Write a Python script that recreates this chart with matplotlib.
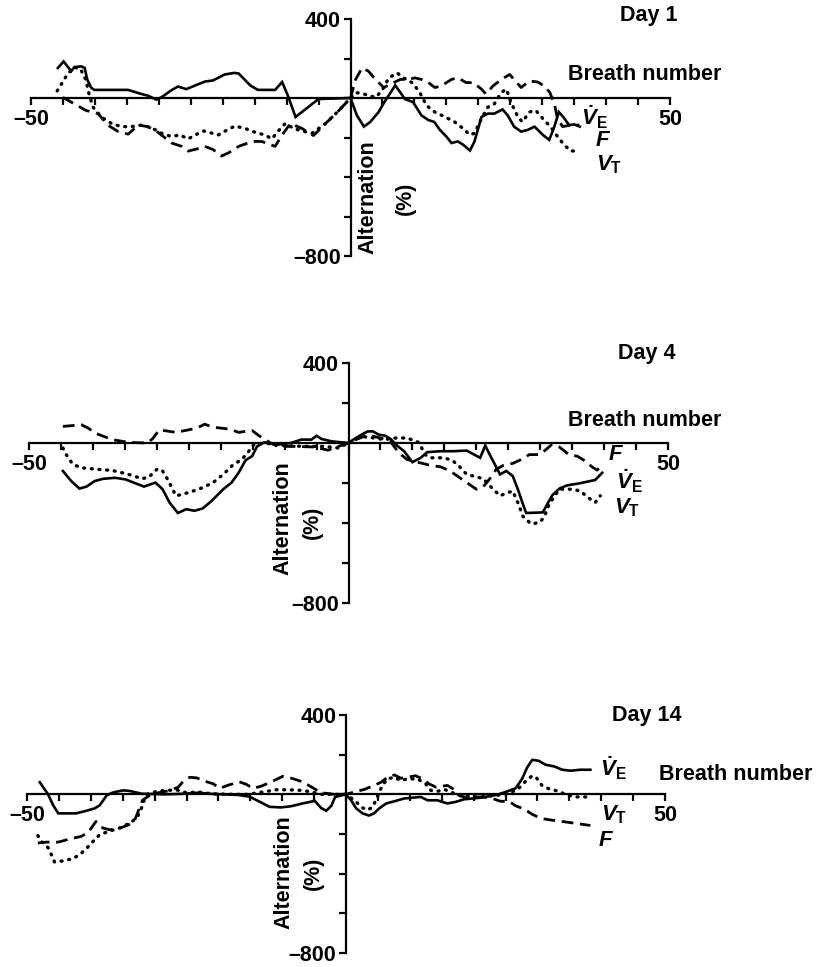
import matplotlib
matplotlib.use("Agg")
import matplotlib.pyplot as plt
from matplotlib.ticker import FixedLocator, FuncFormatter

plt.rcParams['font.family'] = ['Liberation Sans', 'DejaVu Sans']
plt.rcParams['font.weight'] = 'bold'
plt.rcParams['mathtext.fontset'] = 'custom'
plt.rcParams['mathtext.rm'] = 'Liberation Sans:bold'
plt.rcParams['mathtext.it'] = 'Liberation Sans:italic:bold'
plt.rcParams['mathtext.bf'] = 'Liberation Sans:bold'

# ---------------- data (breath number, alternation %) ----------------
day1_ve = [(-45.8, 152), (-44.9, 185), (-43.7, 136), (-43.2, 157), (-42.1, 160), (-41.6, 152),
           (-41.2, 94), (-40.6, 53), (-40.1, 41), (-34.8, 41), (-34.0, 33), (-32.7, 20), (-31.7, 12),
           (-30.4, -8), (-29.6, 3), (-28.0, 40), (-27.0, 58), (-25.7, 45), (-24.1, 66), (-22.8, 83),
           (-21.5, 89), (-19.7, 119), (-18.2, 127), (-17.5, 124), (-15.7, 64), (-14.5, 41), (-11.8, 41),
           (-10.7, 81), (-9.8, 12), (-8.6, -96), (-5.0, -5), (0, 0), (1.0, -88), (2.1, -145),
           (3.1, -121), (4.4, -71), (5.3, -21), (7.0, 64), (7.8, 28), (8.5, -5), (9.8, -21),
           (11.1, -88), (12.2, -112), (13.1, -121), (14.0, -162), (15.0, -195), (15.8, -228),
           (16.8, -220), (17.6, -236), (18.7, -266), (19.4, -220), (20.5, -96), (21.5, -79),
           (22.5, -79), (23.8, -58), (24.6, -88), (25.6, -145), (26.7, -170), (27.7, -162),
           (28.8, -145), (30.1, -187), (31.1, -212), (31.9, -145), (32.6, -71), (33.3, -96),
           (34.2, -137), (35.0, -134), (35.9, -145)]
day1_f = [(-45.0, 3), (-43.2, -30), (-41.4, -63), (-39.5, -79), (-38.0, -137), (-36.4, -169),
          (-34.8, -183), (-33.2, -137), (-31.7, -145), (-30.4, -167), (-28.0, -228), (-26.4, -245),
          (-25.4, -269), (-23.8, -256), (-22.8, -245), (-21.5, -261), (-20.2, -294), (-19.1, -278),
          (-17.5, -245), (-15.4, -220), (-13.9, -220), (-11.8, -245), (-10.7, -187), (-9.4, -129),
          (-7.6, -154), (-5.8, -190), (-3.9, -129), (-1.8, -63), (0, 0), (0.8, 94), (1.8, 152),
          (2.8, 136), (3.9, 94), (5.2, 53), (6.5, 74), (7.8, 94), (9.1, 94), (10.1, 102), (11.1, 94),
          (12.2, 78), (13.2, 53), (14.2, 61), (15.8, 94), (16.8, 102), (18.1, 78), (19.2, 78),
          (20.5, 45), (21.2, 20), (22.3, 61), (23.6, 94), (24.9, 119), (25.6, 94), (26.7, 53),
          (28.0, 86), (29.3, 81), (30.3, 61), (31.2, 28), (31.9, -30), (32.4, -104), (33.2, -145),
          (34.5, -137), (35.8, -137)]
day1_vt = [(-45.9, 36), (-44.3, 120), (-43.3, 155), (-42.3, 150), (-41.4, 90), (-41.0, 30),
           (-40.3, -46), (-39.0, -96), (-37.4, -129), (-35.9, -145), (-34.3, -145), (-32.7, -137),
           (-31.2, -150), (-29.3, -183), (-28.0, -195), (-26.7, -187), (-25.4, -207), (-24.3, -187),
           (-23.0, -167), (-21.7, -178), (-20.7, -187), (-19.6, -167), (-18.1, -142), (-16.5, -154),
           (-14.9, -174), (-13.4, -187), (-12.3, -207), (-11.3, -167), (-10.2, -129), (-8.9, -154),
           (-7.6, -167), (-6.0, -178), (-3.9, -129), (-1.8, -63), (0, 0), (0.8, 28), (2.1, 20),
           (3.9, 3), (4.9, 36), (6.0, 102), (7.3, 127), (8.3, 102), (9.6, 78), (10.7, 36),
           (11.9, -38), (13.2, -71), (14.8, -96), (16.3, -121), (17.6, -154), (18.7, -187),
           (19.4, -178), (20.5, -104), (21.5, -46), (22.5, -30), (23.6, 28), (24.4, 45), (25.1, -21),
           (26.2, -96), (26.9, -121), (28.0, -71), (29.0, -63), (30.3, -112), (31.3, -145),
           (32.4, -195), (33.4, -236), (34.5, -269), (35.8, -266)]

day4_ve = [(-44.7, -140), (-43.4, -190), (-42.1, -228), (-41.0, -218), (-39.7, -190), (-38.4, -179),
           (-36.5, -174), (-34.9, -182), (-33.3, -202), (-32.0, -218), (-30.2, -198), (-29.1, -231),
           (-28.0, -298), (-26.7, -350), (-25.4, -331), (-24.1, -339), (-22.8, -327), (-21.4, -289),
           (-19.6, -231), (-18.3, -198), (-17.2, -149), (-16.1, -86), (-15.1, -66), (-14.3, -17),
           (-13.2, 3), (-11.1, -8), (-9.0, 0), (-7.4, 17), (-5.8, 17), (-5.0, 36), (-4.2, 20),
           (-2.6, 8), (0, 0), (0.9, 20), (2.0, 41), (3.0, 58), (3.8, 58), (4.8, 41), (5.8, 36),
           (6.6, 20), (7.6, -13), (8.7, -41), (10.0, -96), (11.3, -74), (12.3, -46), (14.4, -41),
           (16.4, -41), (18.5, -38), (20.6, -74), (21.4, -13), (22.1, -58), (22.9, -107),
           (23.7, -157), (24.7, -140), (25.7, -165), (26.5, -231), (27.3, -306), (27.8, -350),
           (30.4, -347), (31.1, -306), (31.9, -261), (33.0, -228), (34.2, -212), (36.1, -202),
           (38.6, -185), (39.7, -149)]
day4_f = [(-44.7, 83), (-41.8, 91), (-40.7, 74), (-39.7, 50), (-37.0, 17), (-34.4, 3), (-31.5, 0),
          (-30.7, 20), (-29.6, 66), (-27.0, 53), (-23.8, 74), (-22.5, 94), (-21.2, 79), (-18.5, 69),
          (-17.2, 53), (-15.1, 63), (-14.0, 36), (-12.2, 0), (-11.1, -17), (-8.5, -17), (-5.3, -20),
          (-3.2, -36), (-1.6, -17), (0, 0), (1.0, 15), (3.0, 40), (5.0, 25), (6.5, 10), (7.9, -50),
          (9.2, -83), (12.8, -112), (14.4, -119), (15.9, -140), (17.2, -169), (18.5, -198),
          (20.0, -231), (21.1, -218), (22.1, -179), (23.1, -132), (24.2, -112), (25.7, -102),
          (27.0, -83), (28.3, -58), (29.9, -58), (30.9, -33), (31.9, -5), (33.0, -20), (34.5, -58),
          (35.8, -66), (37.1, -91), (38.1, -119), (38.9, -136), (39.7, -107)]
day4_vt = [(-44.7, -25), (-43.9, -74), (-43.1, -107), (-41.8, -124), (-39.2, -132), (-37.0, -137),
           (-35.4, -149), (-33.9, -162), (-32.3, -179), (-31.2, -169), (-29.9, -129), (-29.1, -140),
           (-28.3, -182), (-27.0, -264), (-25.9, -256), (-24.3, -240), (-22.8, -223), (-21.2, -198),
           (-19.6, -157), (-18.0, -107), (-16.7, -83), (-15.6, -41), (-14.8, -8), (-13.2, 0),
           (-10.0, -13), (-6.9, -17), (-3.7, -17), (-1.6, -25), (0, 0), (2.0, 33), (4.0, 25),
           (5.6, 17), (7.4, 25), (9.2, 25), (11.0, 3), (12.0, -58), (12.8, -74), (14.9, -74),
           (16.2, -86), (17.2, -112), (18.5, -157), (20.0, -169), (21.1, -179), (22.4, -223),
           (23.7, -264), (24.7, -251), (25.7, -240), (26.5, -298), (27.3, -367), (28.6, -405),
           (29.9, -397), (30.6, -372), (31.4, -306), (33.0, -231), (35.0, -231), (36.3, -240),
           (37.3, -268), (38.6, -298), (39.4, -264)]

day14_ve = [(-48.0, 61), (-46.7, 0), (-45.9, -55), (-45.1, -96), (-42.3, -96), (-40.7, -83),
            (-39.4, -71), (-38.6, -55), (-37.5, -5), (-36.7, 7), (-36.2, 12), (-34.9, 20),
            (-33.9, 17), (-32.0, 3), (-28.4, 0), (-25.3, 3), (-23.2, 8), (-21.6, 3), (-16.9, -3),
            (-15.1, -12), (-13.3, -41), (-12.0, -63), (-10.2, -66), (-8.6, -60), (-6.8, -46),
            (-4.9, -33), (-3.9, -69), (-3.1, -83), (-2.3, -58), (-1.7, -13), (0, 0), (0.8, -30),
            (1.6, -71), (2.6, -96), (3.6, -107), (4.4, -96), (5.2, -71), (6.3, -46), (7.6, -35),
            (9.1, -21), (11.7, -13), (12.8, -30), (14.3, -30), (15.9, -46), (17.2, -38),
            (18.5, -25), (21.1, -17), (23.7, -2), (25.3, 15), (26.6, 31), (27.6, 78), (28.4, 136),
            (29.2, 174), (30.2, 169), (31.3, 149), (32.6, 141), (33.9, 124), (35.2, 119),
            (36.7, 124), (38.3, 124)]
day14_f = [(-48.3, -245), (-47.0, -241), (-45.1, -241), (-43.3, -225), (-41.5, -212), (-40.4, -192),
           (-39.2, -137), (-38.1, -170), (-37.0, -179), (-35.4, -170), (-34.1, -154), (-33.2, -137),
           (-32.6, -88), (-31.9, -30), (-30.7, -3), (-29.4, 8), (-27.9, 17), (-26.3, 36),
           (-25.5, 66), (-24.5, 86), (-23.4, 83), (-22.4, 69), (-20.8, 53), (-19.8, 30), (-18.5, 46),
           (-16.7, 63), (-15.6, 50), (-14.6, 30), (-13.3, 41), (-11.7, 63), (-9.9, 91), (-8.3, 79),
           (-6.8, 63), (-5.2, 33), (-3.9, 8), (-1.8, 0), (0, 0), (1.3, 12), (2.9, 25), (4.4, 45),
           (5.5, 61), (6.5, 86), (7.6, 98), (8.6, 81), (9.6, 86), (10.9, 94), (12.0, 78),
           (13.0, 53), (14.1, 36), (15.9, 45), (16.9, 25), (17.7, -5), (19.0, -18), (21.1, -13),
           (22.7, -18), (24.2, -35), (25.5, -35), (26.6, -58), (27.9, -74), (29.2, -101),
           (30.5, -121), (32.0, -129), (33.9, -137), (35.7, -145), (38.3, -157)]
day14_vt = [(-48.3, -208), (-47.8, -236), (-46.7, -269), (-46.2, -303), (-45.7, -341), (-44.4, -336),
            (-42.8, -324), (-41.7, -303), (-40.7, -274), (-39.6, -236), (-38.6, -203), (-37.0, -185),
            (-35.4, -169), (-33.9, -145), (-32.8, -119), (-32.1, -74), (-31.6, -25), (-31.0, 3),
            (-29.4, 17), (-27.9, 20), (-26.6, 23), (-25.0, 8), (-23.2, 12), (-21.1, 3), (-18.0, 0),
            (-15.4, 0), (-12.8, 13), (-10.9, 23), (-9.1, 23), (-7.0, 20), (-5.5, 13), (-3.9, 0),
            (0, 0), (1.3, -30), (2.6, -68), (3.4, -79), (4.2, -63), (4.9, -13), (5.7, 45),
            (6.5, 78), (7.6, 86), (8.6, 69), (9.6, 78), (11.2, 78), (12.5, 53), (13.3, 20),
            (14.3, 15), (15.4, 25), (16.7, 8), (18.0, -8), (21.1, -13), (23.7, -5), (25.8, 8),
            (27.1, 31), (28.1, 64), (29.2, 94), (29.9, 81), (30.7, 45), (31.8, 28), (33.1, 17),
            (34.6, -2), (36.1, -13), (38.3, -13)]

day_titles = ["Day 1", "Day 4", "Day 14"]
x_ticks = list(range(-50, 51, 5))
y_ticks = list(range(-800, 401, 200))
x_labelled = [-50, 50]
y_labelled = [-800, 400]
series_names = [r'$\dot{V}_{\mathrm{E}}$', r'$F$', r'$V_{\mathrm{T}}$']

# ---------------- layout ----------------
W, H = 820, 967
fig = plt.figure(figsize=(W / 100, H / 100), dpi=100)

# (x of -50, x of 50, y of 400, y of -800) in pixels
boxes = [(31, 670, 19, 256), (29, 668, 363, 603), (27, 665, 715, 953)]

styles = {
    've': dict(color='black', lw=1.9, linestyle='-', solid_joinstyle='miter'),
    'f': dict(color='black', lw=2.0, linestyle=(0, (4.2, 2.4))),
    'vt': dict(color='black', lw=2.4, linestyle=(0, (0.3, 2.0)), dash_capstyle='round'),
}

panels = [(day1_ve, day1_f, day1_vt), (day4_ve, day4_f, day4_vt), (day14_ve, day14_f, day14_vt)]

# text placements in pixels
day_pos = [(649, 15), (647, 353), (647, 715)]
breath_pos = [(645, 75), (645, 420), (736, 775)]
alt_pos = [(368, 197), (283, 518), (284, 872)]
pct_pos = [(405, 198), (312, 522), (313, 873)]
label_pos = [
    [(594, 117), (603, 140), (609, 165)],
    [(629, 481), (616, 455), (627, 508)],
    [(613, 768), (606, 840), (614, 815)],
]

FS = 15.5


def px(x, y):
    return x / W, 1 - y / H


def fmt_factory(keep):
    def f(v, p):
        iv = int(round(v))
        if iv not in keep:
            return ''
        return (u'\u2013' + str(abs(iv))) if iv < 0 else str(iv)
    return FuncFormatter(f)


for i, (box, series) in enumerate(zip(boxes, panels)):
    xl, xr, yt, yb = box
    ax = fig.add_axes([xl / W, 1 - yb / H, (xr - xl) / W, (yb - yt) / H])
    ax.set_xlim(-50, 50)
    ax.set_ylim(-800, 400)
    ax.patch.set_alpha(0)
    for s in ('top', 'right'):
        ax.spines[s].set_visible(False)
    ax.spines['left'].set_position(('data', 0))
    ax.spines['bottom'].set_position(('data', 0))
    for s in ('left', 'bottom'):
        ax.spines[s].set_linewidth(1.6)
    ax.xaxis.set_major_locator(FixedLocator(x_ticks))
    ax.yaxis.set_major_locator(FixedLocator(y_ticks))
    ax.xaxis.set_major_formatter(fmt_factory(x_labelled))
    ax.yaxis.set_major_formatter(fmt_factory(y_labelled))
    ax.tick_params(axis='x', direction='out', length=5, width=1.6, pad=3, labelsize=FS)
    ax.tick_params(axis='y', direction='out', length=5, width=1.6, pad=2, labelsize=FS)
    for lab in ax.get_xticklabels() + ax.get_yticklabels():
        lab.set_fontweight('bold')

    ve, f, vt = series
    for data, key in ((ve, 've'), (f, 'f'), (vt, 'vt')):
        xs = [p[0] for p in data]
        ys = [p[1] for p in data]
        ax.plot(xs, ys, clip_on=False, **styles[key])

    fig.text(*px(*day_pos[i]), day_titles[i], ha='center', va='center', fontsize=FS, fontweight='bold')
    fig.text(*px(*breath_pos[i]), "Breath number", ha='center', va='center', fontsize=FS, fontweight='bold')
    fig.text(*px(*alt_pos[i]), "Alternation", ha='center', va='center', rotation=90,
             fontsize=FS, fontweight='bold')
    fig.text(*px(*pct_pos[i]), "(%)", ha='center', va='center', rotation=90,
             fontsize=FS, fontweight='bold')
    for name, pos in zip(series_names, label_pos[i]):
        fig.text(*px(*pos), name, ha='center', va='center', fontsize=FS + 0.5)

fig.savefig("out.png", dpi=100, facecolor='white')
